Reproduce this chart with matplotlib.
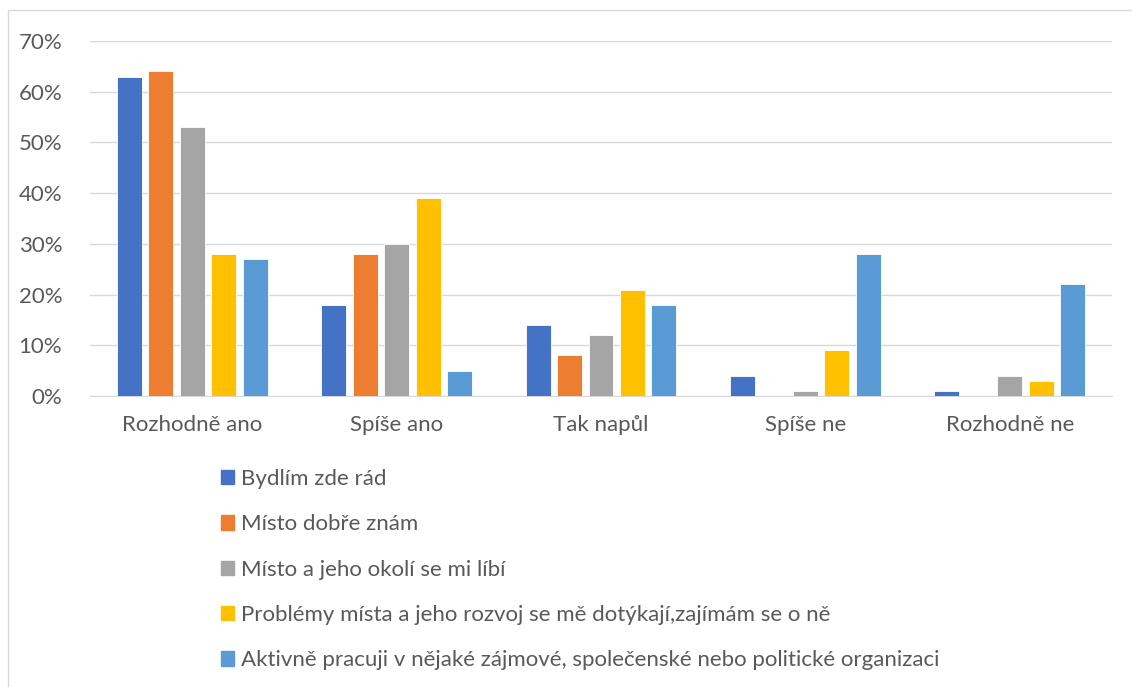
import matplotlib.pyplot as plt
import matplotlib.patches as mpatches
import numpy as np

plt.rcParams['font.family'] = ['Lato', 'DejaVu Sans']

categories = ['Rozhodně ano', 'Spíše ano', 'Tak napůl', 'Spíše ne', 'Rozhodně ne']
series = [
    'Bydlím zde rád',
    'Místo dobře znám',
    'Místo a jeho okolí se mi líbí',
    'Problémy místa a jeho rozvoj se mě dotýkají,zajímám se o ně',
    'Aktivně pracuji v nějaké zájmové, společenské nebo politické organizaci',
]
bydlim = [63, 18, 14, 4, 1]
znam = [64, 28, 8, 0, 0]
libi = [53, 30, 12, 1, 4]
problemy = [28, 39, 21, 9, 3]
aktivne = [27, 5, 18, 28, 22]
values = [bydlim, znam, libi, problemy, aktivne]
colors = ['#4472C4', '#ED7D31', '#A5A5A5', '#FFC000', '#5B9BD5']

W, H = 1132, 687
fig = plt.figure(figsize=(W / 100, H / 100), dpi=100)
ax = fig.add_axes([90 / W, (H - 396) / H, (1112 - 90) / W, (396 - 41) / H])

# outer chart border
fig.add_artist(mpatches.Rectangle((8 / W, -0.01), 1.2, (H - 10) / H + 0.01,
                                  transform=fig.transFigure, fill=False,
                                  edgecolor='#d9d9d9', linewidth=1))

x = np.arange(len(categories))
step = 0.154
width = 0.122
handles = []
for i, (vals, col, name) in enumerate(zip(values, colors, series)):
    ax.bar(x + (i - 2) * step, vals, width, color=col, edgecolor='white',
           linewidth=0.6, zorder=3)
    handles.append(mpatches.Patch(color=col, label=name))

ax.set_xlim(-0.5, len(categories) - 0.5)
ax.set_ylim(0, 70)
ax.set_yticks(range(0, 71, 10))
ax.set_yticklabels([f'{v}%' for v in range(0, 71, 10)])
ax.set_xticks(x)
ax.set_xticklabels(categories)
ax.tick_params(axis='both', length=0, labelsize=16, colors='#595959')
ax.tick_params(axis='y', pad=20)
ax.tick_params(axis='x', pad=14)
ax.grid(axis='y', color='#d9d9d9', linewidth=1, zorder=0)
for s in ['top', 'right', 'left']:
    ax.spines[s].set_visible(False)
ax.spines['bottom'].set_color('#d9d9d9')

fig.legend(handles=handles, loc='upper left', bbox_to_anchor=(201 / W, (H - 449) / H),
           frameon=False, fontsize=16, labelcolor='#595959',
           handlelength=0.6, handleheight=0.6, handletextpad=0.3,
           labelspacing=1.14)

fig.savefig('out.png', dpi=100)
